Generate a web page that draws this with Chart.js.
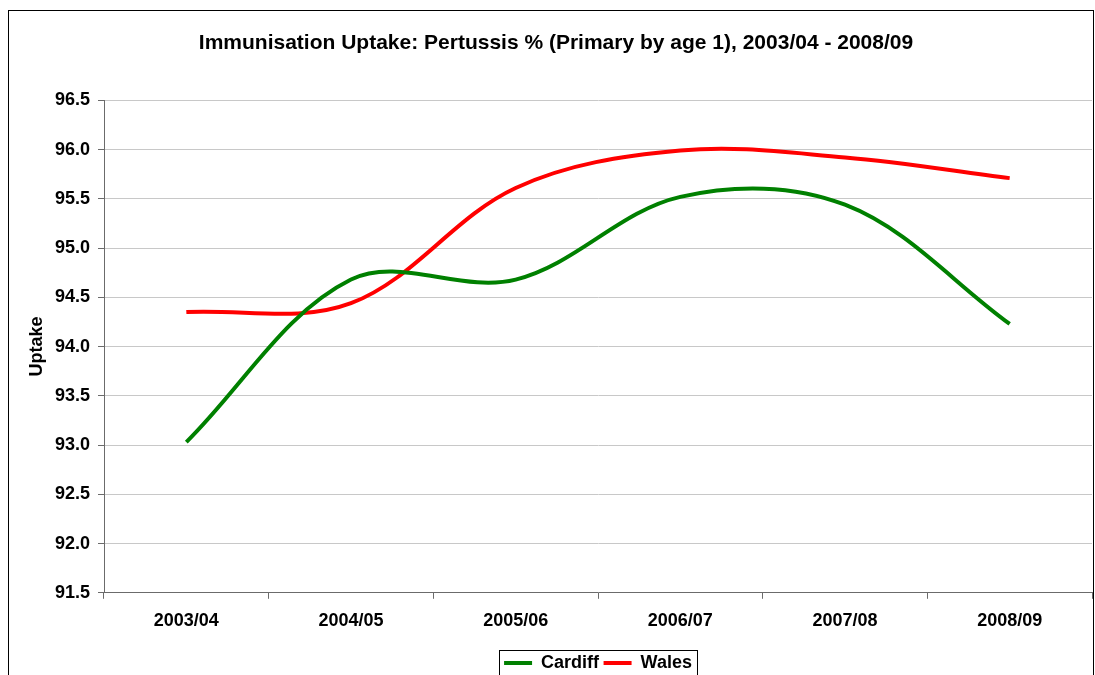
<!DOCTYPE html>
<html>
<head>
<meta charset="utf-8">
<script src="https://cdn.jsdelivr.net/npm/chart.js@4.4.1/dist/chart.umd.min.js"></script>
<style>
  html, body { margin: 0; padding: 0; background: #ffffff; }
  #wrap { width: 1095px; height: 675px; position: relative; }
</style>
</head>
<body>
<div id="wrap"><canvas id="c" width="1095" height="675"></canvas></div>
<script>
const categories = ['2003/04', '2004/05', '2005/06', '2006/07', '2007/08', '2008/09'];
const cardiff = [93.03, 94.68, 94.68, 95.52, 95.44, 94.23];
const wales = [94.35, 94.44, 95.61, 95.99, 95.92, 95.71];
const seriesNames = ['Cardiff', 'Wales'];
const titleText = 'Immunisation Uptake: Pertussis % (Primary by age 1), 2003/04 - 2008/09';
const yTitle = 'Uptake';
const yMin = 91.5, yMax = 96.5, yStep = 0.5;

const FONT = '"Liberation Sans", Arial, sans-serif';
const AXIS = '#6b6b6b';
const GRID = '#c8c8c8';

const frame = {
  id: 'frame',
  afterDraw(chart) {
    const ctx = chart.ctx;
    ctx.save();
    ctx.strokeStyle = '#000';
    ctx.lineWidth = 1;
    ctx.strokeRect(8.5, 10.5, 1085, 700);
    const lg = chart.legend;
    if (lg && lg.legendHitBoxes && lg.legendHitBoxes.length) {
      const hb = lg.legendHitBoxes;
      let l = Infinity, r = -Infinity;
      hb.forEach(b => { l = Math.min(l, b.left); r = Math.max(r, b.left + b.width); });
      ctx.strokeStyle = '#000';
      ctx.strokeRect(Math.round(l - 5) + 0.5, Math.round(lg.top) + 0.5, Math.round(r - l + 10), 60);
    }
    ctx.restore();
  }
};

new Chart(document.getElementById('c'), {
  type: 'line',
  data: {
    labels: categories,
    datasets: [
      { label: seriesNames[0], data: cardiff, borderColor: '#008000', backgroundColor: '#008000',
        borderWidth: 4, pointRadius: 0, tension: 0.35, fill: false },
      { label: seriesNames[1], data: wales, borderColor: '#ff0000', backgroundColor: '#ff0000',
        borderWidth: 4, pointRadius: 0, tension: 0.35, fill: false }
    ]
  },
  options: {
    responsive: false,
    animation: false,
    devicePixelRatio: 1,
    layout: { padding: { left: 20, right: 3, top: 0, bottom: -7 } },
    plugins: {
      title: {
        display: true, text: titleText, color: '#000',
        font: { family: FONT, size: 21, weight: 'bold', lineHeight: 1.2 },
        padding: { top: 30.4, bottom: 44.7 }
      },
      legend: {
        display: true, position: 'bottom', fullSize: false,
        labels: {
          color: '#000', boxWidth: 28, boxHeight: 4, padding: 4.5,
          font: { family: FONT, size: 18, weight: 'bold' },
          generateLabels(chart) {
            const items = Chart.defaults.plugins.legend.labels.generateLabels(chart);
            items.forEach(i => { i.lineWidth = 0; i.fillStyle = i.strokeStyle; });
            return items;
          }
        }
      },
      tooltip: { enabled: false }
    },
    scales: {
      x: {
        type: 'category', offset: true,
        grid: { offset: true, drawOnChartArea: false, drawTicks: true, tickLength: 6, tickColor: AXIS },
        border: { display: true, color: AXIS, width: 1 },
        ticks: { color: '#000', padding: 11, maxRotation: 0, font: { family: FONT, size: 18, weight: 'bold' } },
        afterFit(s) { s.height = 56.7; }
      },
      y: {
        min: yMin, max: yMax,
        grid: { color: GRID, tickColor: AXIS, tickLength: 6, drawTicks: true },
        border: { display: true, color: AXIS, width: 1 },
        ticks: { stepSize: yStep, color: '#000', padding: 8,
          font: { family: FONT, size: 18, weight: 'bold' },
          callback: v => Number(v).toFixed(1) },
        title: { display: true, text: yTitle, color: '#000', padding: { top: 6, bottom: 0 },
          font: { family: FONT, size: 18, weight: 'bold' } },
        afterFit(s) { s.width = 84; }
      }
    }
  },
  plugins: [frame]
});
</script>
</body>
</html>
